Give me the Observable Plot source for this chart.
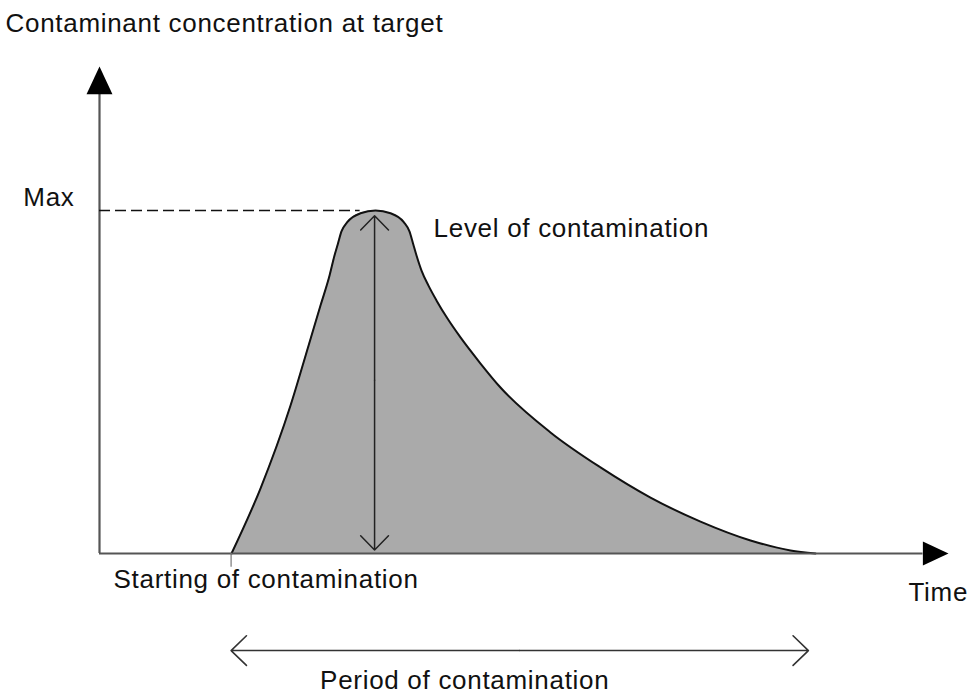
<!DOCTYPE html>
<html>
<head>
<meta charset="utf-8">
<script src="https://cdn.jsdelivr.net/npm/d3@7"></script>
<script src="https://cdn.jsdelivr.net/npm/@observablehq/plot@0.6"></script>
<style>
  html, body { margin: 0; padding: 0; background: #fff; }
  #chart svg { display: block; }
</style>
</head>
<body>
<div id="chart"></div>
<script>
// ---- data (arbitrary units: time 0..100, concentration with Max = 100) ----
const curveTime = [15.55, 18.96, 22.5, 24.62, 26.03, 27.09, 27.68, 28.09, 28.5, 29.18, 30.74, 32.51, 34.28, 35.84, 36.51, 36.93, 37.34, 37.93, 38.75, 39.69, 40.99, 42.52, 44.88, 47.23, 53.12, 59.01, 64.9, 70.79, 76.68, 81.39, 84.33];
const curveConc = [0, 18.95, 43.15, 60.6, 72.3, 81.0, 86.9, 90.4, 93.9, 96.6, 99.2, 100, 99.2, 96.6, 93.9, 90.4, 86.9, 82.5, 78.1, 73.8, 68.5, 63.0, 55.4, 48.4, 35.3, 25.1, 16.3, 9.3, 3.8, 0.9, 0];
const maxLevel = 100;
const startTime = 15.5;
const peakTime = 32.4;
const periodEnd = 83.5;
const timeAxisEnd = 100;
const concAxisEnd = 142;
const titleText = "Contaminant concentration at target";
const maxLabel = "Max";
const levelLabel = "Level of contamination";
const startLabel = "Starting of contamination";
const timeLabel = "Time";
const periodLabel = "Period of contamination";

const curve = curveTime.map((t, i) => ({t, c: curveConc[i]}));

// filled arrowhead with its tip at the origin, pointing up
const arrowHead = {
  draw(ctx, size) {
    const s = Math.sqrt(size / Math.PI);
    ctx.moveTo(0, 0);
    ctx.lineTo(-s * 0.96, s * 2.05);
    ctx.lineTo(s * 0.96, s * 2.05);
    ctx.closePath();
  }
};

const font = "'Liberation Sans', Arial, sans-serif";
const fs = 26;
const ink = "#111";

const chart = Plot.plot({
  width: 973,
  height: 693,
  marginLeft: 99,
  marginRight: 25,
  marginTop: 66,
  marginBottom: 140,
  x: {domain: [0, timeAxisEnd], axis: null},
  y: {domain: [0, concAxisEnd], axis: null},
  style: {fontFamily: font, fontSize: fs + "px", letterSpacing: "0.7px", color: ink, background: "#fff", overflow: "visible"},
  marks: [
    // filled curve
    Plot.areaY(curve, {x: "t", y: "c", curve: "monotone-x", fill: "#aaaaaa"}),
    Plot.lineY(curve, {x: "t", y: "c", curve: "monotone-x", stroke: ink, strokeWidth: 2}),
    // axes
    Plot.ruleX([0], {y1: 0, y2: concAxisEnd - 8, stroke: "#555", strokeWidth: 2.2}),
    Plot.ruleY([0], {x1: 0, x2: timeAxisEnd - 3, stroke: "#555", strokeWidth: 2.2}),
    Plot.dot([0], {x: 0, y: concAxisEnd, symbol: arrowHead, r: 13.5, fill: "#000", stroke: null}),
    Plot.dot([0], {x: timeAxisEnd, y: 0, symbol: arrowHead, r: 12.5, rotate: 90, fill: "#000", stroke: null}),
    // start tick
    Plot.ruleX([startTime], {y1: 0, y2: -4, stroke: "#777", strokeWidth: 1.2}),
    // Max dashed line
    Plot.ruleY([maxLevel], {x1: 0, x2: (peakTime - 1.7), stroke: ink, strokeWidth: 1.5, strokeDasharray: "11,5"}),
    // level double arrow
    Plot.arrow([0, 1], {
      x1: peakTime, x2: peakTime,
      y1: (maxLevel + 1) / 2,
      y2: i => i === 0 ? maxLevel - 1.5 : 1,
      stroke: "#222", strokeWidth: 1.5, headLength: 20, headAngle: 88
    }),
    // period double arrow
    Plot.arrow([0, 1], {
      y1: -28.3, y2: -28.3,
      x1: (startTime + periodEnd) / 2,
      x2: i => i === 0 ? startTime : periodEnd,
      stroke: "#333", strokeWidth: 1.6, headLength: 20, headAngle: 88
    }),
    // labels
    Plot.text([titleText], {frameAnchor: "top-left", dx: -94, dy: -53, textAnchor: "start", fill: ink}),
    Plot.text([maxLabel], {x: 0, y: maxLevel, dx: -25, dy: -13, textAnchor: "end", fill: ink}),
    Plot.text([levelLabel], {x: peakTime, y: maxLevel, dx: 59, dy: 18, textAnchor: "start", fill: ink}),
    Plot.text([startLabel], {x: 0, y: 0, dx: 14, dy: 26, textAnchor: "start", fill: ink}),
    Plot.text([timeLabel], {x: timeAxisEnd, y: 0, dx: -40, dy: 39, textAnchor: "start", fill: ink}),
    Plot.text([periodLabel], {x: startTime, y: 0, dx: 89, dy: 127, textAnchor: "start", fill: ink})
  ]
});
document.getElementById("chart").appendChild(chart);
</script>
</body>
</html>
